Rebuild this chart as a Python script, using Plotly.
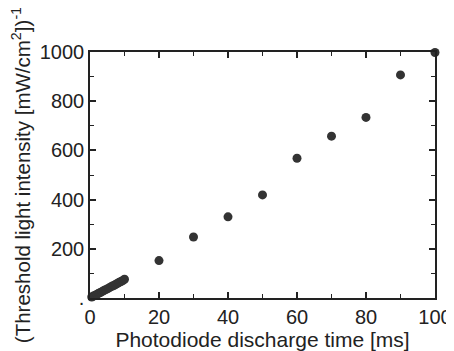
import plotly.graph_objects as go

time_ms = [0.5, 1, 1.5, 2, 2.5, 3, 3.5, 4, 4.5, 5, 5.5, 6, 6.5, 7, 7.5, 8, 8.5, 9, 9.5, 10,
           20, 30, 40, 50, 60, 70, 80, 90, 100]
inv_intensity = [4, 8, 11, 15, 19, 22, 26, 30, 34, 37, 41, 45, 49, 52, 56, 60, 64, 67, 71, 76,
                 152, 248, 330, 419, 568, 658, 734, 907, 998]

x_ticks = [0, 20, 40, 60, 80, 100]
y_ticks = [0, 200, 400, 600, 800, 1000]
y_ticktext = [".", "200", "400", "600", "800", "1000"]

FONT = "Liberation Sans, Arial, sans-serif"
INK = "#222222"

fig = go.Figure()
fig.add_trace(go.Scatter(
    x=time_ms, y=inv_intensity, mode="markers",
    marker=dict(size=9, color="#333333"),
    cliponaxis=False, showlegend=False,
))

axis_common = dict(
    showline=True, linecolor=INK, linewidth=1.5, mirror="ticks",
    ticks="inside", ticklen=6, tickwidth=1.5, tickcolor=INK,
    showgrid=False, zeroline=False, automargin=False,
    tickfont=dict(family=FONT, size=20, color=INK),
)

fig.update_xaxes(
    range=[0, 100], tickvals=x_ticks,
    minor=dict(dtick=10, ticks="inside", ticklen=4, tickwidth=1.2, tickcolor=INK),
    title=dict(text="Photodiode discharge time [ms]", standoff=6,
               font=dict(family=FONT, size=21, color=INK)),
    **axis_common,
)
fig.update_yaxes(
    range=[0, 1000], tickvals=y_ticks, ticktext=y_ticktext,
    minor=dict(dtick=100, ticks="inside", ticklen=4, tickwidth=1.2, tickcolor=INK),
    title=dict(text="(Threshold light intensity [mW/cm<sup>2</sup>])<sup>-1</sup>", standoff=5,
               font=dict(family=FONT, size=20.5, color=INK)),
    **axis_common,
)

# page body has an 8px default margin, so size the figure to fit the window
fig.update_layout(
    width=446, height=343,
    margin=dict(l=82, r=19, t=44, b=53),
    paper_bgcolor="white", plot_bgcolor="white",
)

fig.write_html("out.html")
